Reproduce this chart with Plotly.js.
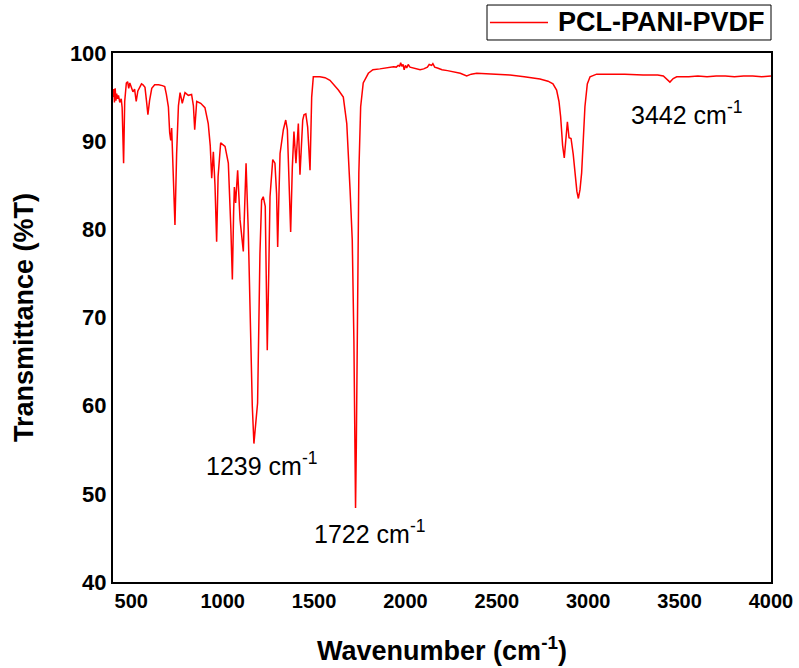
<!DOCTYPE html>
<html>
<head>
<meta charset="utf-8">
<script src="https://cdn.plot.ly/plotly-3.0.1.min.js"></script>
<style>html,body{margin:0;padding:0;background:#fff;}#chart{width:799px;height:668px;}</style>
</head>
<body>
<div id="chart"></div>
<script>
// Wavenumber (cm-1) and transmittance (%T)
const wavenumber = [
  400,404,408,412,416,420,425,430,437,445,450,458,464,473,480,486,492,500,509,518,527,536,546,556,564,575,583,591,600,612,628,650,670,683,692,703,710,716,721,728,739,748,758,767,779,794,812,830,840,847,852,858,880,903,921,932,940,949,958,967,975,989,1013,1031,1045,1053,1060,1064,1071,1082,1095,1113,1121,1128,1140,1153,1162,1171,1180,1191,1197,1204,1213,1222,1233,1244,1252,1259,1274,1286,1295,1301,1308,1314,1332,1345,1354,1363,1372,1381,1390,1401,1414,1423,1438,1445,1455,1465,1470,1478,1487,1496,1532,1560,1587,1610,1633,1660,1679,1697,1709,1718,1724,1727,1731,1736,1745,1755,1769,1797,1822,1860,1900,1935,1950,1960,1968,1974,1980,1987,1993,2000,2007,2015,2025,2040,2060,2080,2100,2120,2130,2143,2150,2160,2175,2200,2230,2260,2300,2335,2360,2390,2450,2500,2572,2650,2700,2736,2780,2807,2827,2840,2849,2860,2869,2876,2886,2895,2906,2918,2928,2938,2946,2955,2964,2973,2982,2995,3010,3046,3100,3200,3300,3380,3411,3430,3447,3465,3484,3550,3600,3650,3700,3750,3800,3850,3900,3950,4000
];
const transmittance = [
  95.0,95.9,94.4,96.0,94.6,95.4,94.8,95.2,94.4,94.8,93.8,87.5,94.5,96.6,96.75,96.0,96.6,96.2,95.6,95.9,94.5,95.7,96.2,96.5,96.4,96.1,94.6,93.0,94.6,96.0,96.4,96.4,96.3,96.2,95.3,93.9,91.0,90.1,91.5,88.0,80.5,88.5,94.0,95.5,94.3,95.5,95.2,95.3,94.0,91.3,93.5,94.5,94.3,93.8,92.0,89.5,85.8,88.8,85.0,78.6,86.0,89.8,89.4,87.5,80.0,74.3,82.0,84.8,83.0,86.7,81.1,77.5,83.0,87.5,79.9,67.8,60.0,55.7,57.5,60.3,68.0,77.3,83.3,83.7,82.6,66.3,75.0,83.7,87.9,87.5,84.0,78.0,84.0,88.6,91.3,92.4,91.3,86.0,79.7,87.0,91.1,87.5,92.0,86.2,92.4,93.0,93.1,91.6,89.0,86.7,95.0,97.3,97.3,97.2,96.9,96.4,95.8,95.0,92.0,84.5,78.8,67.4,55.0,48.4,55.0,67.4,86.4,93.9,96.6,97.7,98.1,98.2,98.35,98.45,98.4,98.6,98.5,98.9,98.5,98.7,98.1,98.6,98.3,98.7,98.4,98.3,98.2,98.1,98.2,98.4,98.7,98.6,98.8,98.4,98.3,98.1,98.0,97.9,97.7,97.4,97.6,97.7,97.65,97.6,97.5,97.3,97.2,97.05,96.8,96.5,95.8,94.5,92.8,89.5,88.1,90.0,92.2,90.4,90.3,88.5,86.4,84.3,83.5,84.5,86.4,90.5,93.9,96.5,97.3,97.6,97.6,97.6,97.5,97.5,97.4,97.0,96.7,97.1,97.3,97.3,97.4,97.3,97.4,97.4,97.3,97.4,97.4,97.3,97.4
];
const seriesName = "PCL-PANI-PVDF";
const xTickValues = [500,1000,1500,2000,2500,3000,3500,4000];
const yTickValues = [40,50,60,70,80,90,100];
const peakLabels = ["1239 cm<sup>-1</sup>", "1722 cm<sup>-1</sup>", "3442 cm<sup>-1</sup>"];
const peakLabelX = [1215, 1806, 3535];
const peakLabelY = [53.4, 45.7, 93.2];

const FONT = "Liberation Sans, Arial, sans-serif";
const LINE_COLOR = "#ff0000";

const trace = {
  x: wavenumber,
  y: transmittance,
  type: "scatter",
  mode: "lines",
  name: seriesName,
  line: {color: LINE_COLOR, width: 1.5},
  showlegend: false
};

const annotations = peakLabels.map((t, i) => ({
  x: peakLabelX[i], y: peakLabelY[i], xref: "x", yref: "y",
  text: t, showarrow: false,
  font: {family: FONT, size: 25, color: "#000"}
}));

// Legend box drawn above the plot (paper coordinates)
const legY = 1.0577;
annotations.push({
  x: 0.6733, y: legY, xref: "paper", yref: "paper",
  xanchor: "left", yanchor: "middle", showarrow: false,
  text: seriesName,
  font: {family: FONT, size: 27, color: "#000", weight: "bold"}
});
const shapes = [
  {type: "rect", xref: "paper", yref: "paper", x0: 0.5684, x1: 1.0, y0: 1.0246, y1: 1.0907,
   line: {color: "#000", width: 1}, fillcolor: "rgba(0,0,0,0)"},
  {type: "line", xref: "paper", yref: "paper", x0: 0.5729, x1: 0.6611, y0: legY, y1: legY,
   line: {color: LINE_COLOR, width: 1.5}}
];

const layout = {
  width: 799, height: 668,
  margin: {l: 113, r: 28, t: 53, b: 86, pad: 0, autoexpand: false},
  paper_bgcolor: "#fff", plot_bgcolor: "#fff",
  font: {family: FONT, color: "#000"},
  showlegend: false,
  xaxis: {
    range: [400, 4000], tickvals: xTickValues, ticks: "",
    showgrid: false, zeroline: false,
    showline: true, mirror: true, linecolor: "#000", linewidth: 2,
    tickfont: {family: FONT, size: 20, color: "#000", weight: "bold"},
    title: {text: "Wavenumber (cm<sup>-1</sup>)", standoff: 30,
            font: {family: FONT, size: 27, color: "#000", weight: "bold"}},
    automargin: false
  },
  yaxis: {
    range: [40, 100], tickvals: yTickValues, ticks: "",
    showgrid: false, zeroline: false,
    showline: true, mirror: true, linecolor: "#000", linewidth: 2,
    tickfont: {family: FONT, size: 22, color: "#000", weight: "bold"},
    title: {text: "Transmittance (%T)", standoff: 28,
            font: {family: FONT, size: 27, color: "#000", weight: "bold"}},
    automargin: false
  },
  annotations: annotations,
  shapes: shapes
};

Plotly.newPlot("chart", [trace], layout, {displayModeBar: false, staticPlot: true});
</script>
</body>
</html>
